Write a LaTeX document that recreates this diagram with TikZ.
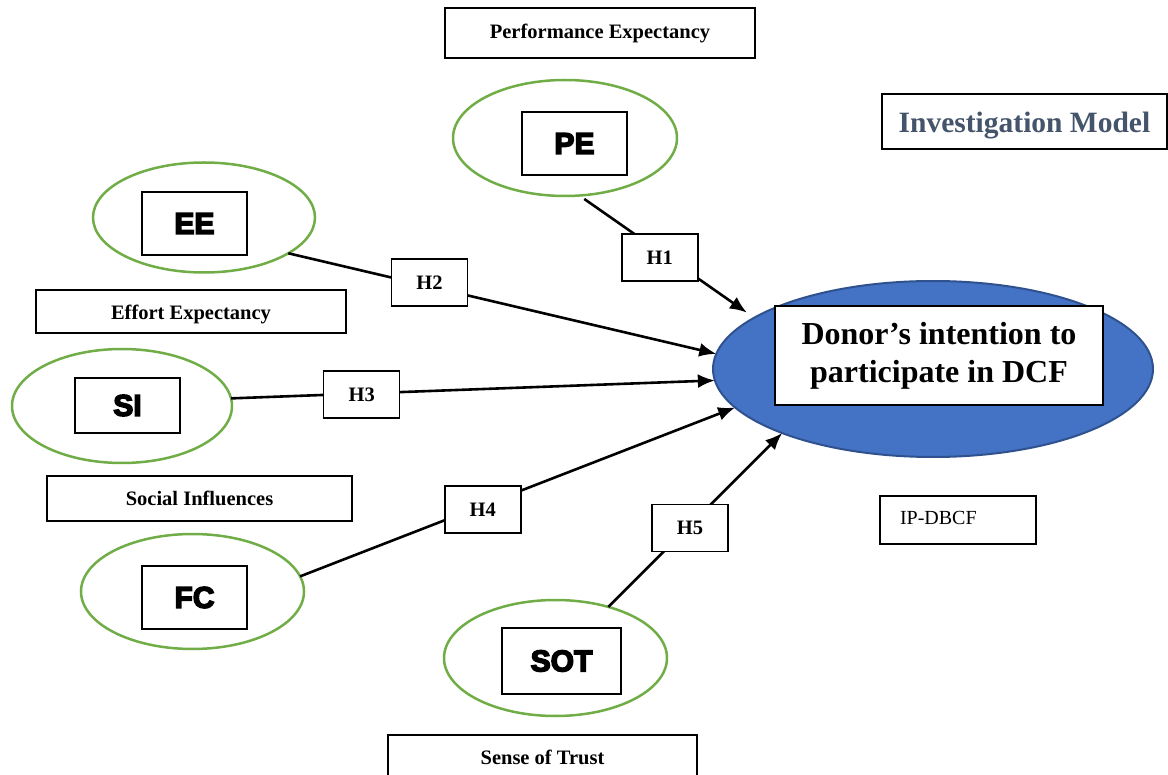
\documentclass[tikz,border=0pt]{standalone}
\usepackage{fontspec}
\setmainfont{Liberation Serif}
\newfontfamily\blk[FakeBold=5]{Liberation Sans}
\usetikzlibrary{shapes.geometric,arrows.meta}
\definecolor{grn}{HTML}{70AD47}
\definecolor{mainblue}{HTML}{4472C4}
\definecolor{mainedge}{HTML}{2F528F}
\definecolor{slate}{HTML}{44546A}
\begin{document}
\begin{tikzpicture}[x=1pt,y=-1pt,
 oval/.style={ellipse, draw=grn, line width=2.5pt, inner sep=0pt, outer sep=0pt},
 abbr/.style={draw=black, line width=1.5pt, fill=white, inner sep=0pt, font=\blk\bfseries\fontsize{30}{30}\selectfont},
 namebox/.style={draw=black, line width=1.5pt, fill=white, inner sep=0pt, text depth=0pt, font=\bfseries\fontsize{20.5}{24}\selectfont},
 hyp/.style={draw=black, line width=1.5pt, fill=white, minimum width=76pt, minimum height=47pt, inner sep=0pt, font=\bfseries\fontsize{20.5}{24}\selectfont},
 arr/.style={line width=2.6pt, -{Latex[length=17pt,width=14pt]}}
]
\useasboundingbox (0,0) rectangle (1168,775);

% title boxes
\node[namebox, text height=11pt, minimum width=310pt, minimum height=50pt] (pelbl) at (600,33) {Performance Expectancy};
\node[draw=black, line width=1.5pt, fill=white, inner sep=0pt, text height=23pt, text depth=0pt, minimum width=285pt, minimum height=55pt, text=slate, font=\bfseries\fontsize{29.5}{32}\selectfont] (invest) at (1024.5,121.5) {Investigation Model};
\node[namebox, text height=17pt, minimum width=310pt, minimum height=43pt] (eelbl) at (191,311.5) {Effort Expectancy};
\node[namebox, text height=13pt, minimum width=305pt, minimum height=45pt] (silbl) at (199.5,498.5) {Social Influences};
\node[namebox, text height=8pt, minimum width=309pt, minimum height=50pt] (sotlbl) at (542.5,760) {Sense of Trust};
\node[draw=black, line width=1.5pt, fill=white, inner xsep=20pt, inner ysep=0pt, text width=116pt, text height=10pt, text depth=0pt, minimum height=48pt, align=left, font=\fontsize{20}{24}\selectfont] (ipdbcf) at (958,520) {IP-DBCF};

% construct ellipses
\node[oval, minimum width=224pt, minimum height=116pt] (pe) at (565,138) {};
\node[abbr, minimum width=105pt, minimum height=63pt] (peb) at (574.5,143.5) {PE};
\node[oval, minimum width=222pt, minimum height=110pt] (ee) at (204,217.5) {};
\node[abbr, minimum width=105pt, minimum height=63pt] (eeb) at (194.5,223.5) {EE};
\node[oval, minimum width=220pt, minimum height=114pt] (si) at (122,406) {};
\node[abbr, minimum width=105pt, minimum height=55pt] (sib) at (127.5,405.5) {SI};
\node[oval, minimum width=223pt, minimum height=115pt] (fc) at (192.5,591.5) {};
\node[abbr, minimum width=105pt, minimum height=63pt] (fcb) at (194.5,597.5) {FC};
\node[oval, minimum width=223pt, minimum height=116pt] (sot) at (555.5,658) {};
\node[abbr, minimum width=119pt, minimum height=66pt] (sotb) at (561.5,661) {SOT};

% main construct
\node[ellipse, fill=mainblue, draw=mainedge, line width=2pt, minimum width=440pt, minimum height=176pt, inner sep=0pt, outer sep=0pt] (main) at (933,369) {};
\node[draw=black, line width=1.5pt, fill=white, minimum width=328pt, minimum height=99pt, inner sep=0pt, align=center, font=\bfseries\fontsize{32}{38}\selectfont] (mainb) at (939,355.5) {Donor’s intention to\\participate in DCF};

% hypotheses
\draw[arr, shorten <=6pt, shorten >=9pt] (pe.-76) -- node[hyp, pos=0.46, yshift=-6pt] (h1) {H1} (main.164.8);
\draw[arr] (ee.-23) -- node[hyp, pos=0.33, yshift=4pt] (h2) {H2} (main.176);
\draw[arr] (si.4) -- node[hyp, pos=0.27, yshift=-1pt] (h3) {H3} (main.183);
\draw[arr] (fc.8) -- node[hyp, pos=0.42, yshift=-4pt] (h4) {H4} (main.191);
\draw[arr] (sot.44) -- node[hyp, pos=0.47, yshift=-3pt] (h5) {H5} (main.203);
\end{tikzpicture}
\end{document}
